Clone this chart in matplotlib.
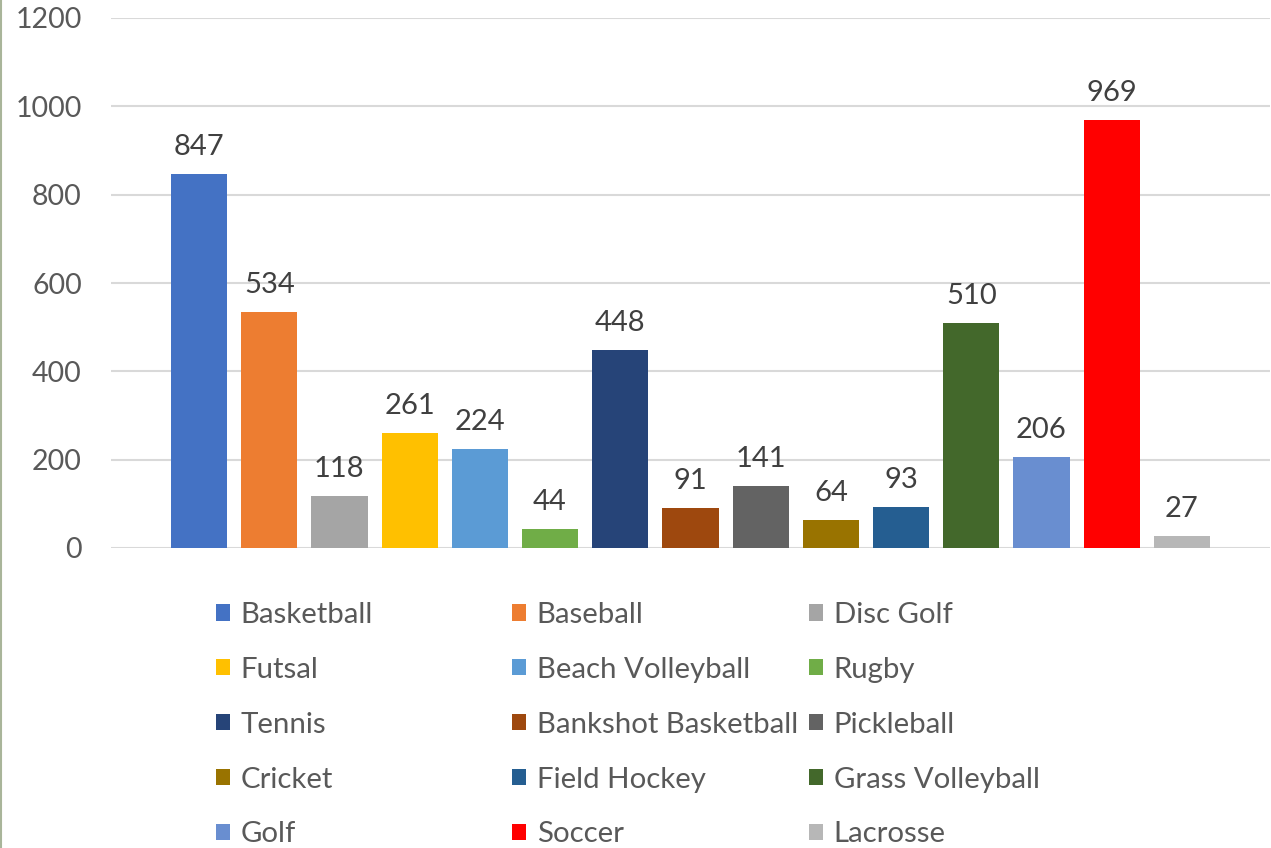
import matplotlib.pyplot as plt
from matplotlib.lines import Line2D
from matplotlib.patches import Patch

sports = ["Basketball", "Baseball", "Disc Golf", "Futsal", "Beach Volleyball", "Rugby",
          "Tennis", "Bankshot Basketball", "Pickleball", "Cricket", "Field Hockey",
          "Grass Volleyball", "Golf", "Soccer", "Lacrosse"]
counts = [847, 534, 118, 261, 224, 44, 448, 91, 141, 64, 93, 510, 206, 969, 27]
colors = ["#4472C4", "#ED7D31", "#A5A5A5", "#FFC000", "#5B9BD5", "#70AD47",
          "#264478", "#9E480E", "#636363", "#997300", "#255E91", "#43682B",
          "#698ED0", "#FF0000", "#B7B7B7"]
yticks = [0, 200, 400, 600, 800, 1000, 1200]

plt.rcParams["font.family"] = ["Lato", "DejaVu Sans"]

W, H = 1271, 848
fig = plt.figure(figsize=(W / 100, H / 100), dpi=100)
ax = fig.add_axes([111 / W, (H - 548) / H, (1270 - 111) / W, (548 - 18) / H])

x = list(range(len(counts)))
bars = ax.bar(x, counts, width=0.8, color=colors, zorder=3)
for b, v in zip(bars, counts):
    ax.annotate(str(v), (b.get_x() + b.get_width() / 2, v), xytext=(0, 10),
                textcoords="offset points", ha="center", va="bottom",
                fontsize=21, color="#404040")

ax.set_xlim(-1.254, 15.256)
ax.set_ylim(0, 1200)
ax.set_yticks(yticks)
ax.set_xticks([])
ax.grid(axis="y", color="#D9D9D9", linewidth=1.5, zorder=0)
for s in ax.spines.values():
    s.set_visible(False)
ax.tick_params(axis="y", length=0, pad=21, labelsize=20.5, labelcolor="#595959")

# legend: three equal-width columns, entries ordered row by row
col_x = [216, 512, 809]
for c in range(3):
    idx = list(range(c, len(sports), 3))
    handles = [Patch(facecolor=colors[i]) for i in idx]
    fig.legend(handles, [sports[i] for i in idx], loc="upper left",
               bbox_to_anchor=(col_x[c] / W, (H - 602) / H), frameon=False,
               fontsize=21.2, labelcolor="#595959", handlelength=0.47,
               handleheight=0.47, handletextpad=0.37, labelspacing=0.98,
               borderaxespad=0, borderpad=0)

fig.add_artist(Line2D([0.8 / W, 0.8 / W], [0, 1], color="#A9B59A", linewidth=1.5))

fig.savefig("out.png", dpi=100)
